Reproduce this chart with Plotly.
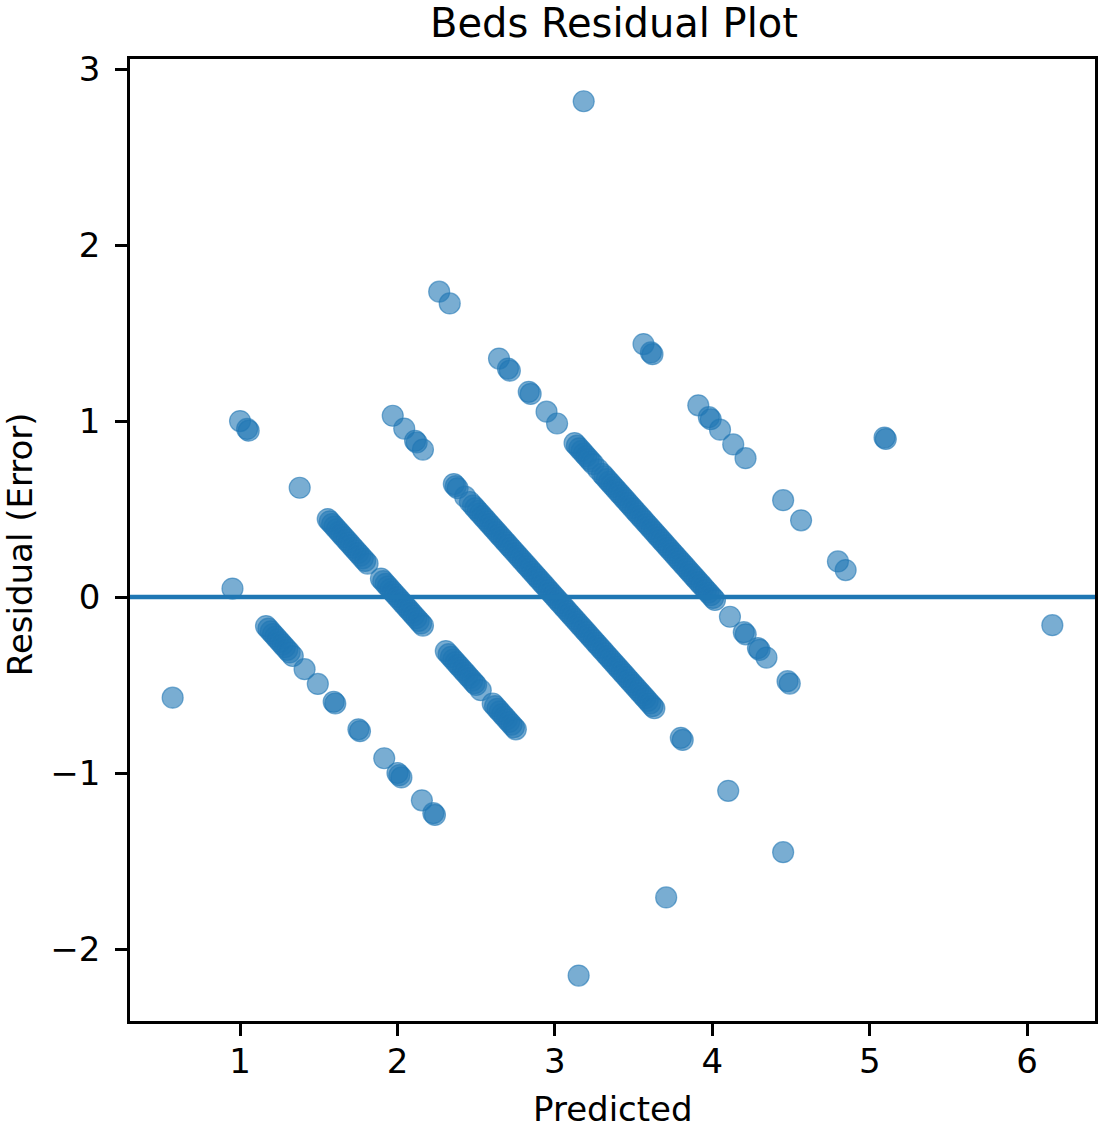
import plotly.graph_objects as go

# Predicted values grouped by actual bed count (residual = actual - predicted)
beds_actual = [0, 1, 2, 3, 4, 5, 6]

pred_beds0 = [0.572]
pred_beds1 = [0.952, 1.165, 1.18, 1.195, 1.21, 1.225, 1.24, 1.255, 1.27, 1.285, 1.30,
              1.315, 1.335, 1.41, 1.494, 1.595, 1.605, 1.752, 1.762, 1.916, 2.0, 2.012,
              2.025, 2.155, 2.228, 2.238, 3.151]
pred_beds2 = [1.0, 1.045, 1.055, 1.379,
              1.557, 1.57, 1.585, 1.60, 1.615, 1.63, 1.645, 1.66, 1.675, 1.69, 1.705,
              1.72, 1.735, 1.75, 1.765, 1.78, 1.795, 1.81,
              1.895, 1.91, 1.925, 1.94, 1.955, 1.97, 1.985, 2.0, 2.015, 2.03, 2.045,
              2.06, 2.075, 2.09, 2.105, 2.12, 2.135, 2.15, 2.162,
              2.307, 2.325, 2.34, 2.355, 2.37, 2.385, 2.40, 2.415, 2.43, 2.445, 2.46,
              2.475, 2.49, 2.50, 2.529,
              2.605, 2.62, 2.635, 2.65, 2.665, 2.68, 2.695, 2.71, 2.725, 2.74, 2.752,
              3.707]
pred_beds3 = [1.97, 2.043, 2.112, 2.122, 2.162,
              2.358, 2.37, 2.382, 2.43, 2.46,
              2.48, 2.495, 2.51, 2.525, 2.54, 2.555, 2.57, 2.585, 2.60, 2.615, 2.63,
              2.645, 2.66, 2.675, 2.69, 2.705, 2.72, 2.735, 2.75, 2.765, 2.78, 2.795,
              2.81, 2.825, 2.84, 2.855, 2.87, 2.885, 2.90, 2.915, 2.93, 2.945, 2.96,
              2.975, 2.99, 3.005, 3.02, 3.035, 3.05, 3.065, 3.08, 3.095, 3.11, 3.125,
              3.14, 3.155, 3.17, 3.185, 3.20, 3.215, 3.23, 3.245, 3.26, 3.275, 3.29,
              3.305, 3.32, 3.335, 3.35, 3.365, 3.38, 3.395, 3.41, 3.425, 3.44, 3.455,
              3.47, 3.485, 3.50, 3.515, 3.53, 3.545, 3.56, 3.575, 3.59, 3.605, 3.62,
              3.632,
              3.80, 3.812, 4.101, 4.45]
pred_beds4 = [2.265, 2.332, 2.645, 2.702, 2.714, 2.834, 2.846, 2.947, 3.014,
              3.125, 3.14, 3.155, 3.17, 3.185, 3.20, 3.215, 3.23, 3.245, 3.275,
              3.30, 3.315, 3.33, 3.345, 3.36, 3.375, 3.39, 3.405, 3.42, 3.435, 3.45,
              3.465, 3.48, 3.495, 3.51, 3.525, 3.54, 3.555, 3.57, 3.585, 3.60, 3.615,
              3.63, 3.645, 3.66, 3.675, 3.69, 3.705, 3.72, 3.735, 3.75, 3.765, 3.78,
              3.795, 3.81, 3.825, 3.84, 3.855, 3.87, 3.885, 3.90, 3.915, 3.93, 3.945,
              3.96, 3.975, 3.99, 4.005, 4.017,
              4.112, 4.20, 4.212, 4.29, 4.30, 4.344, 4.478, 4.492]
pred_beds5 = [3.563, 3.61, 3.62, 3.911, 3.978, 3.99, 4.049, 4.133, 4.211, 4.45, 4.564,
              4.798, 4.847]
pred_beds6 = [3.183, 5.094, 5.102, 6.16]

pred_groups = [pred_beds0, pred_beds1, pred_beds2, pred_beds3, pred_beds4, pred_beds5, pred_beds6]

predicted = []
residual = []
for actual, preds in zip(beds_actual, pred_groups):
    for p in preds:
        predicted.append(p)
        residual.append(actual - p)

x_ticks = [1, 2, 3, 4, 5, 6]
y_ticks = [-2, -1, 0, 1, 2, 3]

FONT = "DejaVu Sans"
BLUE = "rgba(31,119,180,0.6)"

fig = go.Figure()
fig.add_trace(go.Scatter(
    x=predicted, y=residual, mode="markers",
    marker=dict(size=21, color=BLUE, line=dict(color=BLUE, width=1.2)),
    showlegend=False, hoverinfo="skip",
))

fig.add_shape(type="line", xref="x domain", yref="y", x0=0, x1=1, y0=0, y1=0,
              line=dict(color="#1f77b4", width=4.5), layer="above")

axis_common = dict(
    showgrid=False, zeroline=False, showline=True, linecolor="black", linewidth=2.7,
    mirror=True, ticks="outside", ticklen=12, tickwidth=2.7, tickcolor="black",
    tickfont=dict(family=FONT, size=34, color="black"),
)

fig.update_xaxes(range=[0.301, 6.431], tickvals=x_ticks, ticklabelstandoff=-4, **axis_common)
fig.update_yaxes(range=[-2.409, 3.057], tickvals=y_ticks, ticklabelstandoff=8, **axis_common)

fig.update_layout(
    width=1104, height=1128,
    margin=dict(l=130, r=6, t=59, b=107),
    plot_bgcolor="white", paper_bgcolor="white",
    title=dict(text="Beds Residual Plot", x=614 / 1104, xanchor="center",
               y=1 - 23 / 1128, yanchor="middle", yref="container",
               font=dict(family=FONT, size=40, color="black")),
    annotations=[
        dict(text="Predicted", xref="paper", yref="paper", x=0.5, y=-88 / 962,
             xanchor="center", yanchor="middle", showarrow=False,
             font=dict(family=FONT, size=34, color="black")),
        dict(text="Residual (Error)", xref="paper", yref="paper", x=-110 / 968, y=0.496,
             xanchor="center", yanchor="middle", showarrow=False, textangle=-90,
             font=dict(family=FONT, size=34, color="black")),
    ],
)

fig.write_html(
    "out.html",
    config={"displayModeBar": False},
    post_script="document.body.style.margin='0';document.body.style.overflow='hidden';",
)
